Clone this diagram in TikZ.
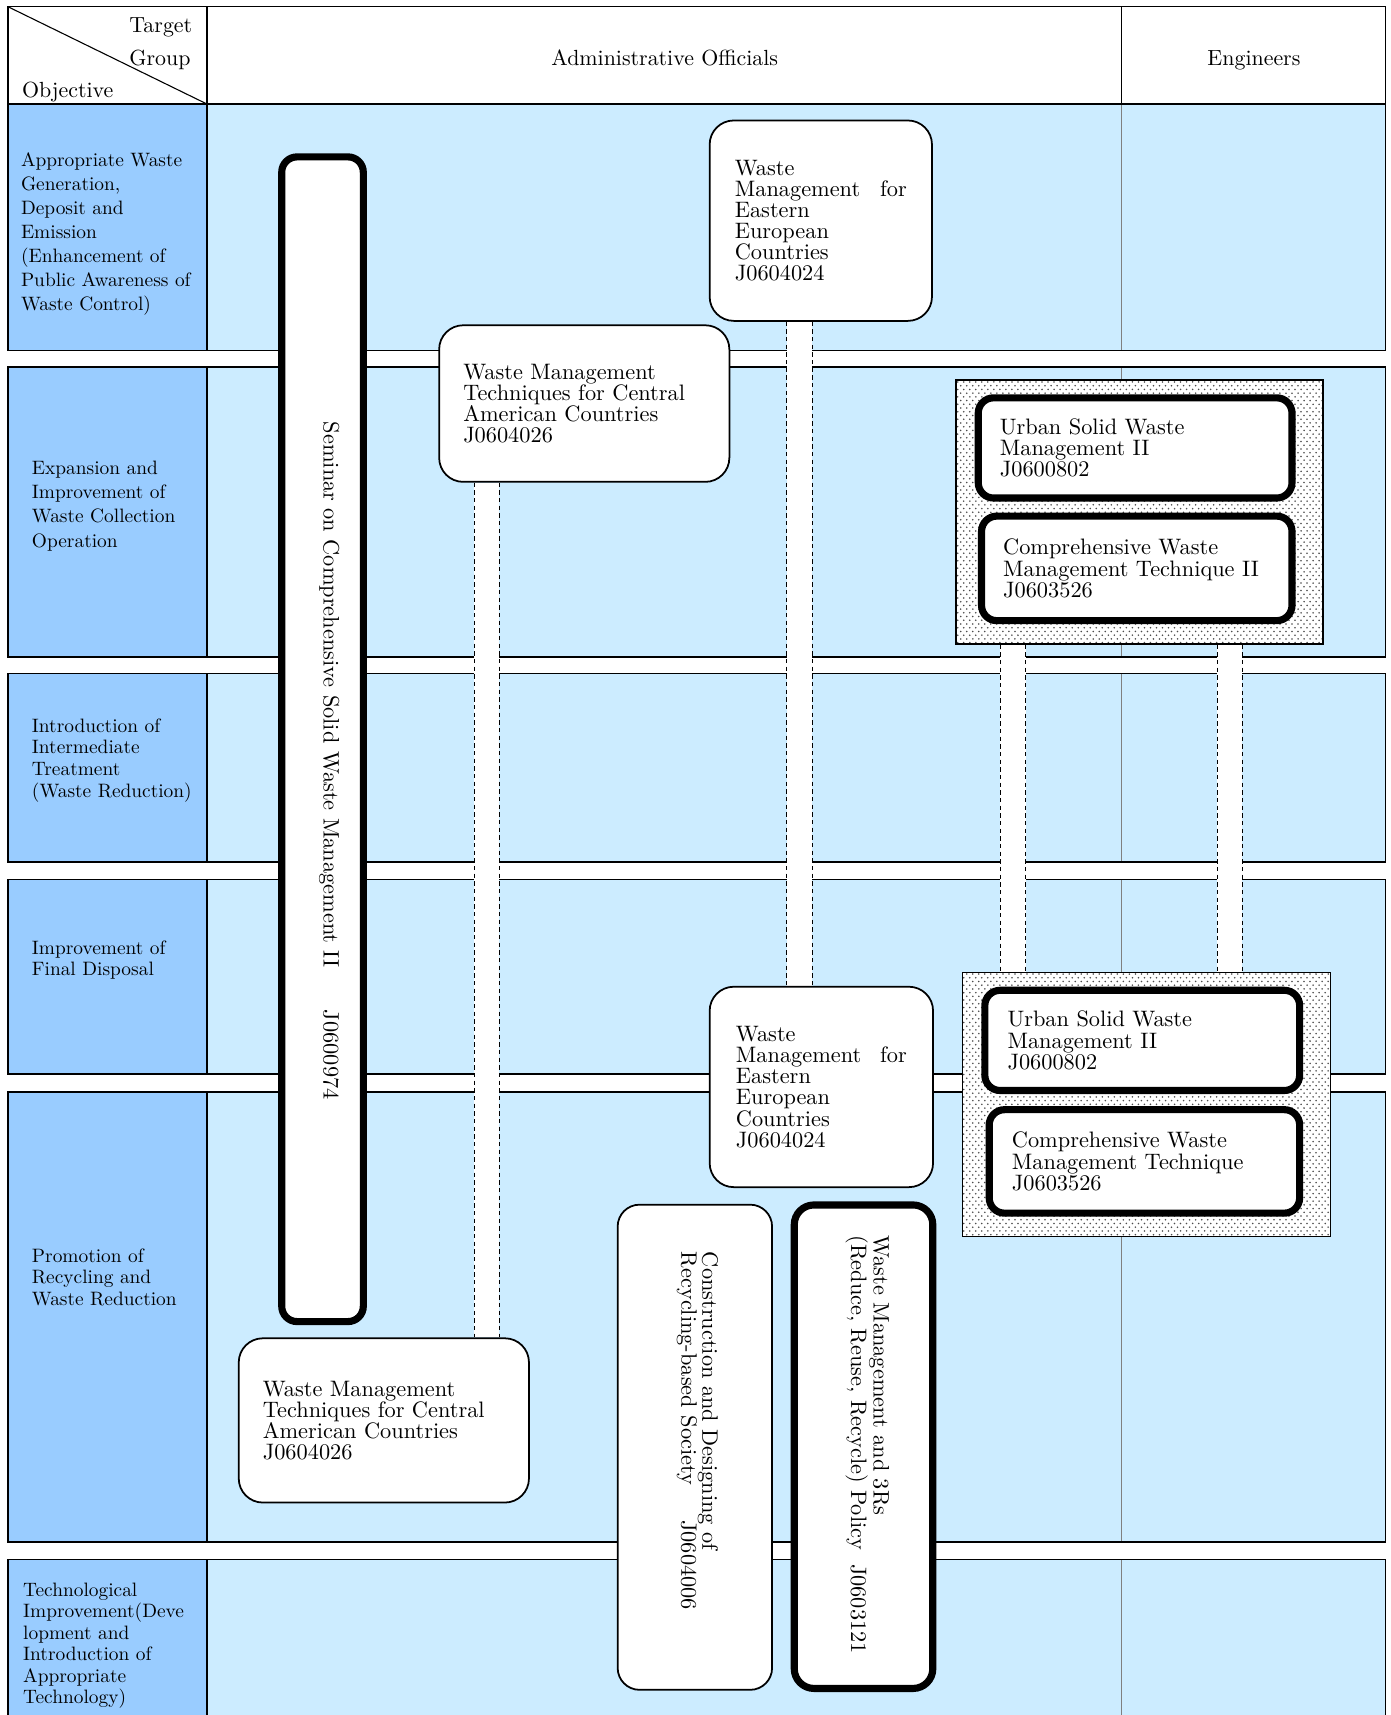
\documentclass[tikz,border=0pt]{standalone}
\usepackage{fontspec}
\setmainfont{lmroman10-regular.otf}
\usetikzlibrary{patterns}
\definecolor{leftblue}{HTML}{99CCFF}
\definecolor{rowblue}{HTML}{CCECFF}
\newcommand\boxfont{\fontsize{20.4}{19.3}\selectfont}
\newcommand\hdrfont{\fontsize{20}{22}\selectfont}
\pgfdeclarepatternformonly{sdots}{\pgfqpoint{-1pt}{-1pt}}{\pgfqpoint{4pt}{4.5pt}}{\pgfqpoint{5.5pt}{6.8pt}}{%
  \pgfpathcircle{\pgfqpoint{0pt}{0pt}}{0.8pt}%
  \pgfpathcircle{\pgfqpoint{2.75pt}{3.4pt}}{0.8pt}%
  \pgfusepath{fill}}
\pgfdeclarelayer{bg}
\pgfdeclarelayer{mid}
\pgfsetlayers{bg,mid,main}
\begin{document}
\begin{tikzpicture}[x=1pt,y=-1pt,
  thinbox/.style={draw, line width=1.6pt, fill=white, rounded corners=22pt, inner sep=0pt, font=\boxfont, align=left},
  thickbox/.style={draw, line width=6.5pt, fill=white, rounded corners=14pt, inner sep=0pt, font=\boxfont, align=left},
  groupbox/.style={draw, line width=1.2pt, preaction={fill=white}, pattern=sdots, pattern color=black!70, inner sep=0pt},
  rottext/.style={rotate=-90, anchor=north west, inner sep=0pt, align=left, font=\boxfont},
  leftlabel/.style={anchor=north west, inner sep=0pt, align=left},
  hdr/.style={inner sep=0pt, font=\hdrfont},
  strip/.style={line cap=butt,
    preaction={draw=white, line width=23pt},
    postaction={draw=black, line width=0.9pt, dash pattern=on 4pt off 3pt, transform canvas={xshift=11.5pt}},
    postaction={draw=black, line width=0.9pt, dash pattern=on 4pt off 3pt, transform canvas={xshift=-11.5pt}}},
  rowline/.style={line width=1.6pt}
]
\useasboundingbox (0,0) rectangle (1270,1566);
\begin{pgfonlayer}{bg}
\fill[white] (0,0) rectangle (1270,1566);
% header
\draw[rowline, fill=white] (7,6) rectangle (1265,95);
\draw[rowline] (189,6) -- (189,95);
\draw[rowline] (1024,6) -- (1024,95);
\draw[line width=1pt] (7,6) -- (189,95);
% rows
\foreach \t/\b in {95/320, 335/600, 615/787, 803/981, 997/1408, 1424/1600} {
  \fill[rowblue] (189,\t) rectangle (1265,\b);
  \fill[leftblue] (7,\t) rectangle (189,\b);
  \draw[gray, line width=0.8pt] (1024,\t) -- (1024,\b);
  \draw[rowline] (7,\t) rectangle (1265,\b);
  \draw[rowline] (189,\t) -- (189,\b);
}
\end{pgfonlayer}

% header texts
\node[hdr, anchor=base west] (tgt) at (118,30) {Target};
\node[hdr, anchor=base west] (grp) at (118,60) {Group};
\node[hdr, anchor=base west] (obj) at (20,89) {Objective};
\node[hdr, anchor=base] (adm) at (607,60) {Administrative Officials};
\node[hdr, anchor=base] (eng) at (1145,60) {Engineers};

% objective labels
\node[leftlabel, font=\fontsize{17.7}{22}\selectfont] (o1) at (19,139) {Appropriate Waste\\Generation,\\Deposit and\\Emission\\(Enhancement of\\Public Awareness of\\Waste Control)};
\node[leftlabel, font=\fontsize{17.7}{22}\selectfont] (o2) at (29,421) {Expansion and\\Improvement of\\Waste Collection\\Operation};
\node[leftlabel, font=\fontsize{17.7}{19.8}\selectfont] (o3) at (29,656) {Introduction of\\Intermediate\\Treatment\\(Waste Reduction)};
\node[leftlabel, font=\fontsize{17.7}{19.5}\selectfont] (o4) at (29,859) {Improvement of\\Final Disposal};
\node[leftlabel, font=\fontsize{17.7}{19.5}\selectfont] (o5) at (29,1140) {Promotion of\\Recycling and\\Waste Reduction};
\node[leftlabel, font=\fontsize{17.7}{19.6}\selectfont] (o6) at (21,1445) {Technological\\Improvement(Deve\\lopment and\\Introduction of\\Appropriate\\Technology)};

% seminar
\node[thickbox, minimum width=74.5pt, minimum height=1063.5pt] (sem) at (294.5,675) {};
\node[rottext] (semtxt) at (310,385) {\makebox[537pt][l]{Seminar on Comprehensive Solid Waste Management II}J0600974};

% eastern european
\node[thinbox, minimum width=203pt, minimum height=183pt, text width=157pt] (ee1) at (749.5,201.5) {Waste\\Management\hfill for\\Eastern\\European\\Countries\\J0604024};
\node[thinbox, minimum width=204pt, minimum height=183pt, text width=156pt] (ee2) at (750,992.5) {Waste\\Management\hfill for\\Eastern\\European\\Countries\\J0604024};

% central american
\node[thinbox, minimum width=265pt, minimum height=143pt, text width=221pt] (ca1) at (533.5,368.5) {Waste Management\\Techniques for Central\\American Countries\\J0604026};
\node[thinbox, minimum width=265pt, minimum height=150pt, text width=221pt] (ca2) at (350.5,1297) {Waste Management\\Techniques for Central\\American Countries\\J0604026};

% groups
\node[groupbox, minimum width=335pt, minimum height=241pt] (g1) at (1040.5,467.5) {};
\node[groupbox, minimum width=336pt, minimum height=241pt] (g2) at (1047,1008.5) {};
\node[thickbox, minimum width=286.5pt, minimum height=91.5pt, text width=247pt] (us1) at (1036.5,409) {Urban Solid Waste\\Management II\\J0600802};
\node[thickbox, minimum width=283.5pt, minimum height=95.5pt, text width=244pt] (cw1) at (1038,519) {Comprehensive Waste\\Management Technique II\\J0603526};
\node[thickbox, minimum width=287.5pt, minimum height=91.5pt, text width=246pt] (us2) at (1043,950) {Urban Solid Waste\\Management II\\J0600802};
\node[thickbox, minimum width=283.5pt, minimum height=94.5pt, text width=242pt] (cw2) at (1045,1060.5) {Comprehensive Waste\\Management Technique\\J0603526};

% recycling boxes
\node[thinbox, rounded corners=20pt, minimum width=141pt, minimum height=443pt] (cds) at (634.5,1321.5) {};
\node[rottext] (cdstxt) at (656,1143) {Construction and Designing of\\\makebox[245pt][l]{Recycling-based Society}J0604006};
\node[thickbox, rounded corners=18pt, minimum width=126.5pt, minimum height=441.5pt] (wm3r) at (788.5,1321) {};
\node[rottext] (wm3rtxt) at (812,1128) {Waste Management and 3Rs\\\makebox[300pt][l]{(Reduce, Reuse, Recycle) Policy}J0603121};

% connectors
\begin{pgfonlayer}{mid}
\path[strip] ([xshift=-89pt]ca1.south) -- ([xshift=94pt]ca2.north);
\path[strip] ([xshift=-19.5pt]ee1.south) -- ([xshift=-20pt]ee2.north);
\path[strip] ([xshift=-115.5pt]g1.south) -- ([xshift=-122pt]g2.north);
\path[strip] ([xshift=82.5pt]g1.south) -- ([xshift=76pt]g2.north);
\end{pgfonlayer}
\end{tikzpicture}
\end{document}
